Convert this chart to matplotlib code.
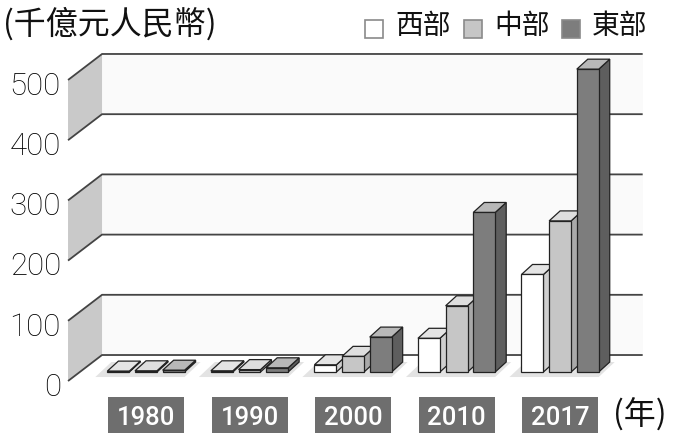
import matplotlib
matplotlib.use('Agg')
import matplotlib.pyplot as plt
from matplotlib.patches import Polygon, Rectangle
from matplotlib.transforms import Affine2D, ScaledTranslation, blended_transform_factory

# data (千億元人民幣)
years = ['1980', '1990', '2000', '2010', '2017']
west = [1.5, 2, 12, 56, 162]
central = [2, 4, 26, 110, 251]
east = [3, 7, 58, 265, 503]
series_names = ['西部', '中部', '東部']
yticks = [0, 100, 200, 300, 400, 500]

CJK = ['Noto Sans CJK TC', 'DejaVu Sans']

W, H = 674, 438
fig = plt.figure(figsize=(W / 100, H / 100), dpi=100)
ax = fig.add_axes([0, 0, 1, 1])
ax.set_xlim(-1.41, 5.10)
ax.set_ylim(-109.6, 617.9)
ax.axis('off')

# pixel helpers
sx = (5.10 + 1.41) / W
sy = (617.9 + 109.6) / H


def off(x, y, dxp, dyp):
    # shift a data point by screen pixels (dyp > 0 means down)
    return (x + dxp * sx, y - dyp * sy)


pix = Affine2D().scale(1 / W, -1 / H).translate(0, 1) + fig.transFigure

# walls
xl, xr = -0.637, 4.585
FRONT = (-12, 9)
BACK = (22, -17)
for k in range(len(yticks) - 1):
    lo, hi = yticks[k], yticks[k + 1]
    if k % 2 == 0:
        wall = [off(xl, lo, *FRONT), off(xl, lo, *BACK), off(xl, hi, *BACK), off(xl, hi, *FRONT)]
        ax.add_patch(Polygon(wall, closed=True, fc='#c9c9c9', ec='none', zorder=1))
        back = [off(xl, lo, *BACK), off(xr, lo, *BACK), off(xr, hi, *BACK), off(xl, hi, *BACK)]
        ax.add_patch(Polygon(back, closed=True, fc='#fafafa', ec='none', zorder=0))
for v in yticks:
    pts = [off(xl, v, *FRONT), off(xl, v, *BACK), off(xr, v, *BACK)]
    xs, ys = zip(*pts)
    ax.plot(xs, ys, color='#444444', lw=1.3, solid_capstyle='butt', zorder=2)

# bars
bw = 0.212
step = 0.267
BD = (11, -10)
edge = '#222222'
styles = [('#ffffff', '#e4e4e4', '#cfcfcf'),
          ('#c6c6c6', '#dedede', '#a9a9a9'),
          ('#7d7d7d', '#b8b8b8', '#5e5e5e')]
for i in range(len(years)):
    gl = i - step - bw / 2
    gr = i + step + bw / 2
    shadow = [off(gl, 0, -12, 5), off(gr, 0, 0, 5), off(gr, 0, 16, -10), off(gl, 0, 4, -10)]
    ax.add_patch(Polygon(shadow, closed=True, fc='#e3e3e3', ec='none', zorder=2.5))
    for j, vals in enumerate([west, central, east]):
        v = vals[i]
        x0 = i + (j - 1) * step - bw / 2
        x1 = x0 + bw
        fc, tc, sc = styles[j]
        z = 3 + i + j * 0.1
        side = [(x1, 0), (x1, v), off(x1, v, *BD), off(x1, 0, *BD)]
        top = [(x0, v), (x1, v), off(x1, v, *BD), off(x0, v, *BD)]
        ax.add_patch(Polygon(side, closed=True, fc=sc, ec=edge, lw=0.9, zorder=z))
        ax.add_patch(Polygon(top, closed=True, fc=tc, ec=edge, lw=0.9, zorder=z))
        ax.bar(x0, v, width=bw, align='edge', color=fc, edgecolor=edge, lw=0.9, zorder=z)

# y tick labels
tick_tr = blended_transform_factory(pix, ax.transData) + \
    ScaledTranslation(0, -0.237, fig.dpi_scale_trans)
for v in yticks:
    ax.text(61, v, str(v), transform=tick_tr, ha='right', va='baseline',
            fontsize=22.5, family=['Roboto', 'DejaVu Sans'], fontweight='light', color='#000000')

# year labels
year_tr = blended_transform_factory(ax.transData, pix)
for i, yr in enumerate(years):
    ax.add_patch(Rectangle((i - 0.367, 397), 0.734, 36, transform=year_tr,
                           fc='#6e6e6e', ec='none', clip_on=False))
    ax.text(i, 425, yr, transform=year_tr, ha='center', va='baseline',
            fontsize=18.5, family=['Roboto', 'Liberation Sans'], fontweight='medium', color='white')

ax.text(613, 415, '(年)', transform=pix, ha='left', va='center',
        fontsize=23, family=CJK, color='#111111')

# title
ax.text(3, 24, '(千億元人民幣)', transform=pix, ha='left', va='center',
        fontsize=23, family=CJK, color='#111111')

# legend
leg_sq = [365, 464, 562]
for j, name in enumerate(series_names):
    ax.add_patch(Rectangle((leg_sq[j], 20), 18, 18, transform=pix,
                           fc=styles[j][0], ec='#8a8a8a', lw=1.2, clip_on=False))
    ax.text(leg_sq[j] + 30, 26, name, transform=pix, ha='left', va='center',
            fontsize=20, family=CJK, color='#111111')

fig.savefig('out.png', dpi=100)
